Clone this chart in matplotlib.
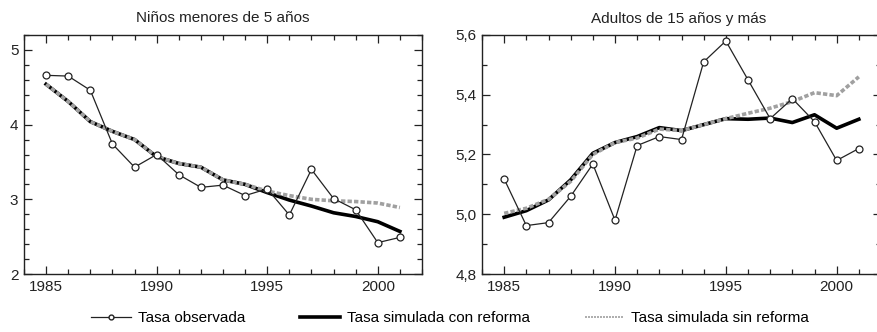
import matplotlib.pyplot as plt
from matplotlib.ticker import MultipleLocator, FixedLocator
from matplotlib.lines import Line2D

years = list(range(1985, 2002))

# Niños menores de 5 años
ninos_obs = [4.66, 4.65, 4.46, 3.74, 3.43, 3.60, 3.33, 3.16, 3.19, 3.05,
             3.14, 2.79, 3.40, 3.01, 2.86, 2.42, 2.49]
ninos_con = [4.54, 4.31, 4.04, 3.91, 3.80, 3.57, 3.48, 3.43, 3.26, 3.20,
             3.09, 2.99, 2.91, 2.82, 2.77, 2.70, 2.57]
ninos_sin = [4.54, 4.31, 4.04, 3.91, 3.80, 3.57, 3.48, 3.43, 3.26, 3.20,
             3.11, 3.05, 3.00, 2.98, 2.97, 2.95, 2.89]

# Adultos de 15 años y más
adul_obs = [5.118, 4.962, 4.972, 5.06, 5.168, 4.98, 5.23, 5.26, 5.25, 5.51,
            5.58, 5.45, 5.32, 5.387, 5.31, 5.18, 5.22]
adul_con = [4.99, 5.012, 5.048, 5.115, 5.204, 5.24, 5.26, 5.29, 5.28, 5.30,
            5.32, 5.318, 5.322, 5.307, 5.333, 5.288, 5.318]
adul_sin = [5.003, 5.02, 5.05, 5.11, 5.20, 5.24, 5.255, 5.285, 5.28, 5.30,
            5.32, 5.338, 5.355, 5.377, 5.407, 5.397, 5.46]

x_ticks = [1985, 1990, 1995, 2000]
ninos_yticks = [2, 3, 4, 5]
ninos_ylabels = ['2', '3', '4', '5']
adul_yticks = [4.8, 5.0, 5.2, 5.4, 5.6]
adul_ylabels = ['4,8', '5,0', '5,2', '5,4', '5,6']

titles = ['Niños menores de 5 años', 'Adultos de 15 años y más']
labels = ['Tasa observada', 'Tasa simulada con reforma', 'Tasa simulada sin reforma']

plt.rcParams['font.family'] = ['Liberation Sans', 'DejaVu Sans']

W, H = 877, 332
fig = plt.figure(figsize=(W / 100, H / 100), dpi=100)
ax1 = fig.add_axes([24 / W, 58 / H, 398 / W, 239 / H])
ax2 = fig.add_axes([482 / W, 58 / H, 399 / W, 239 / H])

grey = '#a0a0a0'
ink = '#222222'


def draw(ax, obs, con, sin, yt, yl, ylim, ymin):
    ax.plot(years, con, color='black', lw=2.6, zorder=2)
    ax.plot(years, sin, color=grey, lw=2.6, dashes=(1.2, 0.6), zorder=3)
    ax.plot(years, obs, color=ink, lw=0.9, marker='o', ms=5,
            mfc='white', mec=ink, mew=0.9, zorder=4)
    ax.set_xlim(1984, 2002)
    ax.set_ylim(*ylim)
    ax.xaxis.set_major_locator(FixedLocator(x_ticks))
    ax.xaxis.set_minor_locator(MultipleLocator(1))
    ax.set_yticks(yt)
    ax.set_yticklabels(yl)
    ax.yaxis.set_minor_locator(MultipleLocator(ymin))
    ax.tick_params(which='both', direction='in', top=True, right=True,
                   labelsize=11, colors=ink, pad=4)
    ax.tick_params(which='major', length=6, width=0.9)
    ax.tick_params(which='minor', length=3.6, width=0.9)
    for s in ax.spines.values():
        s.set_linewidth(1.0)
        s.set_color(ink)


draw(ax1, ninos_obs, ninos_con, ninos_sin, ninos_yticks, ninos_ylabels,
     (2, 5.2), 0.2)
draw(ax2, adul_obs, adul_con, adul_sin, adul_yticks, adul_ylabels,
     (4.8, 5.6), 0.1)
ax1.set_title(titles[0], fontsize=11, color=ink, pad=9)
ax2.set_title(titles[1], fontsize=11, color=ink, pad=9, x=0.492)

handles = [
    Line2D([], [], color=ink, lw=0.9, marker='o', ms=3.5, mfc='white', mec=ink),
    Line2D([], [], color='black', lw=2.6),
    Line2D([], [], color=grey, lw=1.2, dashes=(1.2, 0.6)),
]
fig.legend(handles, labels, loc='center', bbox_to_anchor=(450 / W, 1 - 318 / H),
           ncol=3, frameon=False, handlelength=2.6, handletextpad=0.45,
           columnspacing=3.6, prop={'size': 11})

fig.savefig('out.png', dpi=100)
